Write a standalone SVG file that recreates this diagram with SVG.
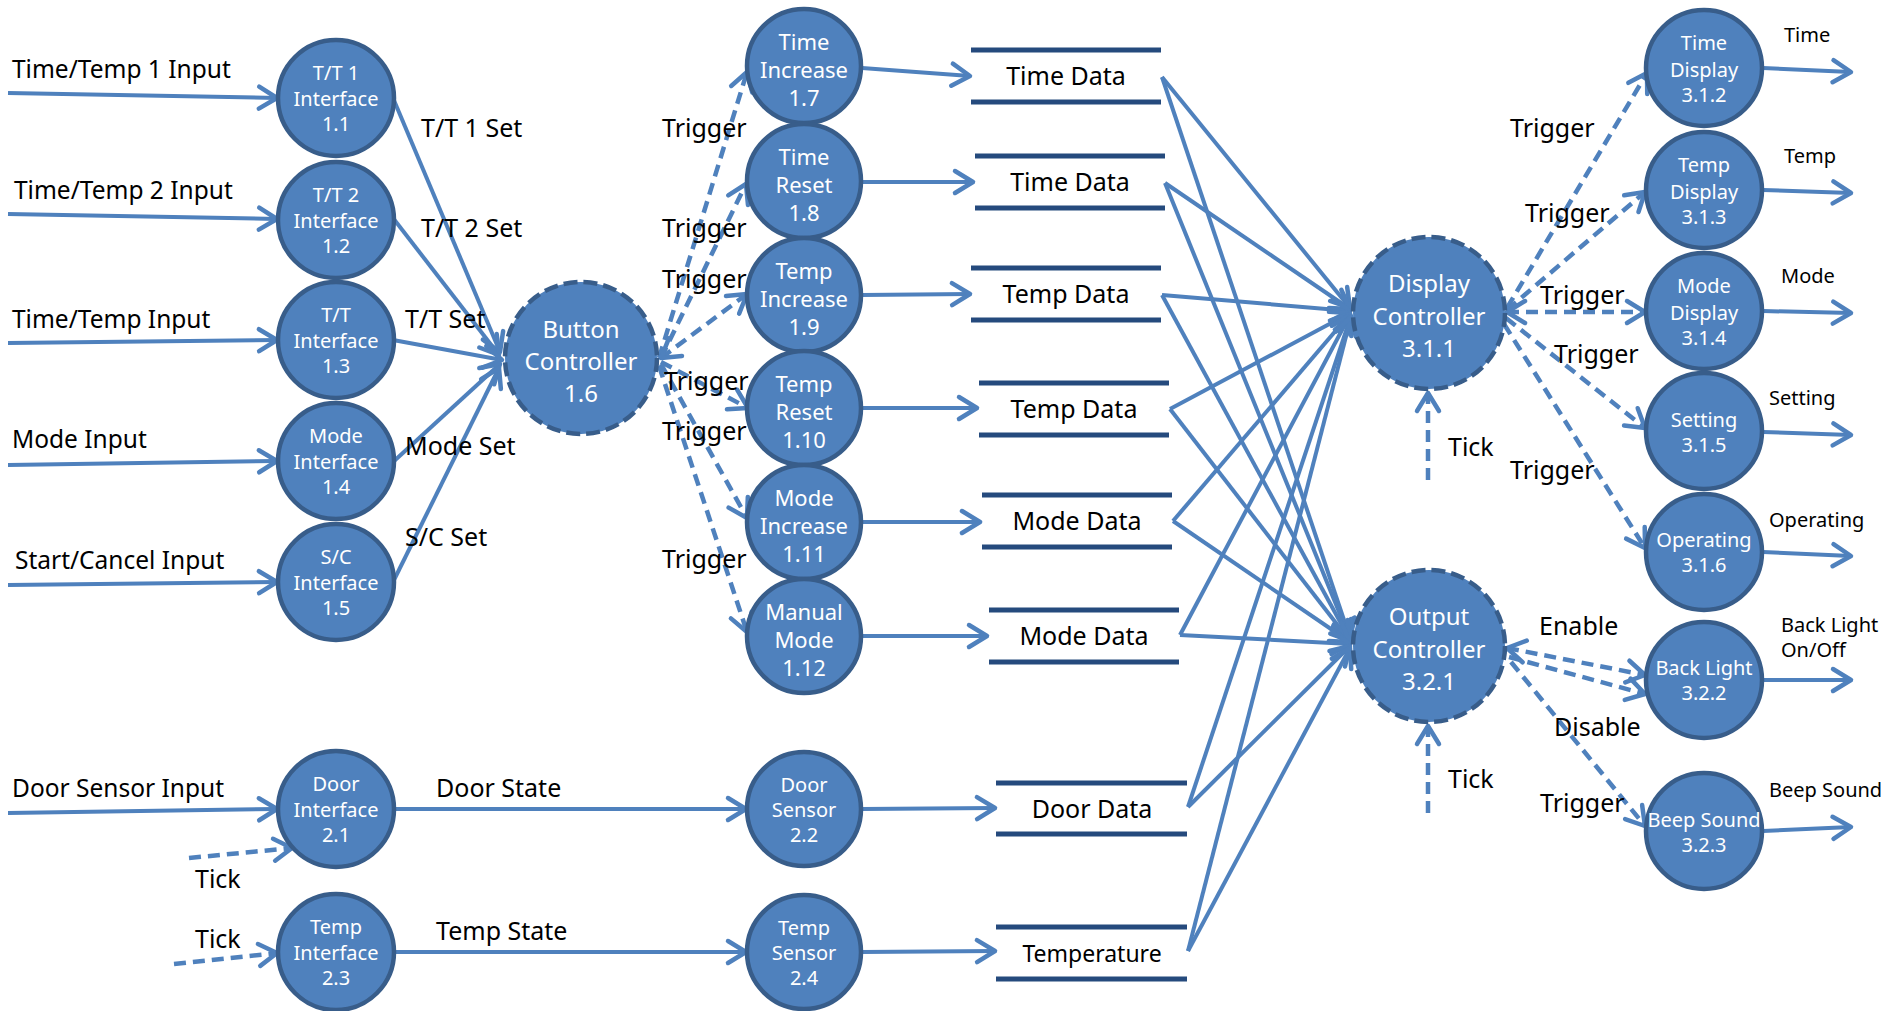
<svg xmlns="http://www.w3.org/2000/svg" width="1895" height="1011" viewBox="0 0 1895 1011">
<style>
text{font-family:'Noto Sans','Open Sans','Noto Sans CJK KR',sans-serif;}
.n{fill:#4F81BD;stroke:#385D8A;stroke-width:4.5;}
.c{fill:#4F81BD;stroke:#385D8A;stroke-width:4.5;stroke-dasharray:14 6;}
.nt{fill:#fff;text-anchor:middle;font-size:20px;}
.mt{fill:#fff;text-anchor:middle;font-size:22px;}
.ct{fill:#fff;text-anchor:middle;font-size:24px;}
.l{fill:#000;font-size:25px;}
.li{fill:#000;font-size:24.5px;}
.ls{fill:#000;font-size:20px;}
.dt{fill:#000;font-size:25px;text-anchor:middle;}
.s{stroke:#4F81BD;stroke-width:4;fill:none;marker-end:url(#ah);}
.d{stroke:#4F81BD;stroke-width:4.5;fill:none;stroke-dasharray:12 7;marker-end:url(#ah);}
.st{stroke:#254A7D;stroke-width:5;}
</style>
<defs>
<marker id="ah" viewBox="-26 -16 32 32" refX="0" refY="0" markerWidth="32" markerHeight="32" markerUnits="userSpaceOnUse" orient="auto-start-reverse">
<path d="M-18,-11 L0,0 L-18,11" fill="none" stroke="#4F81BD" stroke-width="4.5" stroke-linecap="round" stroke-linejoin="round"/>
</marker>
</defs>
<rect width="1895" height="1011" fill="#fff"/>

<g id="stores">
<g id="store-time1"><line class="st" x1="971" y1="50" x2="1161" y2="50"/><line class="st" x1="971" y1="102" x2="1161" y2="102"/><text class="dt" x="1066" y="85">Time Data</text></g>
<g id="store-time2"><line class="st" x1="975" y1="156" x2="1165" y2="156"/><line class="st" x1="975" y1="208" x2="1165" y2="208"/><text class="dt" x="1070" y="191">Time Data</text></g>
<g id="store-temp1"><line class="st" x1="971" y1="268" x2="1161" y2="268"/><line class="st" x1="971" y1="320" x2="1161" y2="320"/><text class="dt" x="1066" y="303">Temp Data</text></g>
<g id="store-temp2"><line class="st" x1="979" y1="383" x2="1169" y2="383"/><line class="st" x1="979" y1="435" x2="1169" y2="435"/><text class="dt" x="1074" y="418">Temp Data</text></g>
<g id="store-mode1"><line class="st" x1="982" y1="495" x2="1172" y2="495"/><line class="st" x1="982" y1="547" x2="1172" y2="547"/><text class="dt" x="1077" y="530">Mode Data</text></g>
<g id="store-mode2"><line class="st" x1="989" y1="610" x2="1179" y2="610"/><line class="st" x1="989" y1="662" x2="1179" y2="662"/><text class="dt" x="1084" y="645">Mode Data</text></g>
<g id="store-door"><line class="st" x1="996" y1="783" x2="1187" y2="783"/><line class="st" x1="996" y1="834" x2="1187" y2="834"/><text class="dt" x="1092" y="818">Door Data</text></g>
<g id="store-temperature"><line class="st" x1="996" y1="927" x2="1187" y2="927"/><line class="st" x1="996" y1="979" x2="1187" y2="979"/><text class="dt" x="1092" y="962" style="font-size:23px">Temperature</text></g>
</g>

<g id="connectors">
<line class="s" x1="8" y1="93" x2="277" y2="98"/>
<line class="s" x1="8" y1="214" x2="277" y2="219"/>
<line class="s" x1="8" y1="343" x2="277" y2="340"/>
<line class="s" x1="8" y1="465" x2="277" y2="461"/>
<line class="s" x1="8" y1="585" x2="277" y2="582"/>
<line class="s" x1="8" y1="813" x2="277" y2="809"/>
<line class="d" x1="189" y1="858" x2="292" y2="848"/>
<line class="d" x1="174" y1="964" x2="277" y2="953"/>
<line class="s" x1="393" y1="98" x2="500" y2="352"/>
<line class="s" x1="393" y1="218" x2="499" y2="355"/>
<line class="s" x1="393" y1="340" x2="502" y2="360"/>
<line class="s" x1="393" y1="462" x2="500" y2="364"/>
<line class="s" x1="393" y1="582" x2="499" y2="368"/>
<line class="s" x1="394" y1="809" x2="746" y2="809"/>
<line class="s" x1="394" y1="952" x2="746" y2="952"/>
<line class="d" x1="659" y1="358" x2="747" y2="72"/>
<line class="d" x1="661" y1="358" x2="746" y2="184"/>
<line class="d" x1="661" y1="358" x2="747" y2="294" style="marker-start:url(#ah)"/>
<line class="d" x1="661" y1="362" x2="748" y2="408"/>
<line class="d" x1="661" y1="364" x2="747" y2="518"/>
<line class="d" x1="659" y1="366" x2="747" y2="632"/>
<line class="s" x1="862" y1="68" x2="970" y2="76"/>
<line class="s" x1="862" y1="182" x2="973" y2="182"/>
<line class="s" x1="862" y1="295" x2="970" y2="294"/>
<line class="s" x1="862" y1="408" x2="977" y2="408"/>
<line class="s" x1="862" y1="522" x2="980" y2="522"/>
<line class="s" x1="862" y1="636" x2="987" y2="636"/>
<line class="s" x1="862" y1="809" x2="995" y2="808"/>
<line class="s" x1="862" y1="952" x2="995" y2="951"/>
<line class="s" x1="1162" y1="77" x2="1350" y2="308"/>
<line class="s" x1="1165" y1="183" x2="1350" y2="309"/>
<line class="s" x1="1162" y1="295" x2="1350" y2="311"/>
<line class="s" x1="1170" y1="409" x2="1350" y2="313"/>
<line class="s" x1="1173" y1="521" x2="1350" y2="314"/>
<line class="s" x1="1180" y1="635" x2="1350" y2="315"/>
<line class="s" x1="1188" y1="807" x2="1351" y2="316"/>
<line class="s" x1="1188" y1="951" x2="1351" y2="317"/>
<line class="s" x1="1162" y1="77" x2="1350" y2="638"/>
<line class="s" x1="1165" y1="183" x2="1350" y2="639"/>
<line class="s" x1="1162" y1="295" x2="1350" y2="640"/>
<line class="s" x1="1170" y1="409" x2="1350" y2="641"/>
<line class="s" x1="1173" y1="521" x2="1350" y2="642"/>
<line class="s" x1="1180" y1="635" x2="1350" y2="644"/>
<line class="s" x1="1188" y1="807" x2="1350" y2="646"/>
<line class="s" x1="1188" y1="951" x2="1350" y2="648"/>
<line class="d" x1="1507" y1="308" x2="1647" y2="73"/>
<line class="d" x1="1507" y1="310" x2="1645" y2="192"/>
<line class="d" x1="1507" y1="312" x2="1645" y2="312" style="marker-start:url(#ah)"/>
<line class="d" x1="1506" y1="318" x2="1645" y2="428"/>
<line class="d" x1="1504" y1="324" x2="1645" y2="548"/>
<line class="d" x1="1428" y1="480" x2="1428" y2="393"/>
<line class="d" x1="1507" y1="648" x2="1645" y2="675" style="marker-start:url(#ah)"/>
<line class="d" x1="1509" y1="657" x2="1645" y2="694"/>
<line class="d" x1="1511" y1="662" x2="1645" y2="826"/>
<line class="d" x1="1428" y1="813" x2="1428" y2="726"/>
<line class="s" x1="1763" y1="68" x2="1851" y2="72"/>
<line class="s" x1="1763" y1="190" x2="1851" y2="193"/>
<line class="s" x1="1763" y1="311" x2="1851" y2="313"/>
<line class="s" x1="1763" y1="432" x2="1851" y2="435"/>
<line class="s" x1="1763" y1="552" x2="1851" y2="556"/>
<line class="s" x1="1763" y1="680" x2="1851" y2="680"/>
<line class="s" x1="1763" y1="831" x2="1851" y2="827"/>
</g>

<g id="labels">
<text class="li" x="12" y="78">Time/Temp 1 Input</text>
<text class="li" x="14" y="199">Time/Temp 2 Input</text>
<text class="li" x="12" y="328">Time/Temp Input</text>
<text class="li" x="12" y="448">Mode Input</text>
<text class="li" x="15" y="569">Start/Cancel Input</text>
<text class="li" x="12" y="797">Door Sensor Input</text>
<text class="l" x="195" y="888">Tick</text>
<text class="l" x="195" y="948">Tick</text>
<text class="l" x="421" y="137">T/T 1 Set</text>
<text class="l" x="421" y="237">T/T 2 Set</text>
<text class="l" x="405" y="328">T/T Set</text>
<text class="l" x="405" y="455">Mode Set</text>
<text class="l" x="405" y="546">S/C Set</text>
<text class="l" x="436" y="797">Door State</text>
<text class="l" x="436" y="940">Temp State</text>
<text class="l" x="662" y="137">Trigger</text>
<text class="l" x="662" y="237">Trigger</text>
<text class="l" x="662" y="288">Trigger</text>
<text class="l" x="664" y="390">Trigger</text>
<text class="l" x="662" y="440">Trigger</text>
<text class="l" x="662" y="568">Trigger</text>
<text class="l" x="1510" y="137">Trigger</text>
<text class="l" x="1525" y="222">Trigger</text>
<text class="l" x="1540" y="304">Trigger</text>
<text class="l" x="1554" y="363">Trigger</text>
<text class="l" x="1510" y="479">Trigger</text>
<text class="l" x="1448" y="456">Tick</text>
<text class="l" x="1448" y="788">Tick</text>
<text class="l" x="1539" y="635">Enable</text>
<text class="l" x="1554" y="736">Disable</text>
<text class="l" x="1540" y="812">Trigger</text>
<text class="ls" x="1784" y="42">Time</text>
<text class="ls" x="1784" y="163">Temp</text>
<text class="ls" x="1781" y="283">Mode</text>
<text class="ls" x="1769" y="405">Setting</text>
<text class="ls" x="1769" y="527">Operating</text>
<text class="ls" x="1781" y="632">Back Light</text>
<text class="ls" x="1781" y="657">On/Off</text>
<text class="ls" x="1769" y="797">Beep Sound</text>
</g>

<g id="n1-1"><circle class="n" cx="336" cy="98" r="58"/><text class="nt" x="336" y="80">T/T 1</text><text class="nt" x="336" y="106">Interface</text><text class="nt" x="336" y="131">1.1</text></g>
<g id="n1-2"><circle class="n" cx="336" cy="220" r="58"/><text class="nt" x="336" y="202">T/T 2</text><text class="nt" x="336" y="228">Interface</text><text class="nt" x="336" y="253">1.2</text></g>
<g id="n1-3"><circle class="n" cx="336" cy="340" r="58"/><text class="nt" x="336" y="322">T/T</text><text class="nt" x="336" y="348">Interface</text><text class="nt" x="336" y="373">1.3</text></g>
<g id="n1-4"><circle class="n" cx="336" cy="461" r="58"/><text class="nt" x="336" y="443">Mode</text><text class="nt" x="336" y="469">Interface</text><text class="nt" x="336" y="494">1.4</text></g>
<g id="n1-5"><circle class="n" cx="336" cy="582" r="58"/><text class="nt" x="336" y="564">S/C</text><text class="nt" x="336" y="590">Interface</text><text class="nt" x="336" y="615">1.5</text></g>
<g id="n2-1"><circle class="n" cx="336" cy="809" r="58"/><text class="nt" x="336" y="791">Door</text><text class="nt" x="336" y="817">Interface</text><text class="nt" x="336" y="842">2.1</text></g>
<g id="n2-3"><circle class="n" cx="336" cy="952" r="58"/><text class="nt" x="336" y="934">Temp</text><text class="nt" x="336" y="960">Interface</text><text class="nt" x="336" y="985">2.3</text></g>

<g id="n1-6"><circle class="c" cx="581" cy="358" r="76"/><text class="ct" x="581" y="338">Button</text><text class="ct" x="581" y="370">Controller</text><text class="ct" x="581" y="402">1.6</text></g>

<g id="n1-7"><circle class="n" cx="804" cy="66" r="57"/><text class="mt" x="804" y="50">Time</text><text class="mt" x="804" y="78">Increase</text><text class="mt" x="804" y="106">1.7</text></g>
<g id="n1-8"><circle class="n" cx="804" cy="181" r="57"/><text class="mt" x="804" y="165">Time</text><text class="mt" x="804" y="193">Reset</text><text class="mt" x="804" y="221">1.8</text></g>
<g id="n1-9"><circle class="n" cx="804" cy="295" r="57"/><text class="mt" x="804" y="279">Temp</text><text class="mt" x="804" y="307">Increase</text><text class="mt" x="804" y="335">1.9</text></g>
<g id="n1-10"><circle class="n" cx="804" cy="408" r="57"/><text class="mt" x="804" y="392">Temp</text><text class="mt" x="804" y="420">Reset</text><text class="mt" x="804" y="448">1.10</text></g>
<g id="n1-11"><circle class="n" cx="804" cy="522" r="57"/><text class="mt" x="804" y="506">Mode</text><text class="mt" x="804" y="534">Increase</text><text class="mt" x="804" y="562">1.11</text></g>
<g id="n1-12"><circle class="n" cx="804" cy="636" r="57"/><text class="mt" x="804" y="620">Manual</text><text class="mt" x="804" y="648">Mode</text><text class="mt" x="804" y="676">1.12</text></g>
<g id="n2-2"><circle class="n" cx="804" cy="809" r="57"/><text class="nt" x="804" y="792">Door</text><text class="nt" x="804" y="817">Sensor</text><text class="nt" x="804" y="842">2.2</text></g>
<g id="n2-4"><circle class="n" cx="804" cy="952" r="57"/><text class="nt" x="804" y="935">Temp</text><text class="nt" x="804" y="960">Sensor</text><text class="nt" x="804" y="985">2.4</text></g>

<g id="n3-1-1"><circle class="c" cx="1429" cy="313" r="76"/><text class="ct" x="1429" y="292">Display</text><text class="ct" x="1429" y="325">Controller</text><text class="ct" x="1429" y="357">3.1.1</text></g>
<g id="n3-2-1"><circle class="c" cx="1429" cy="646" r="76"/><text class="ct" x="1429" y="625">Output</text><text class="ct" x="1429" y="658">Controller</text><text class="ct" x="1429" y="690">3.2.1</text></g>

<g id="n3-1-2"><circle class="n" cx="1704" cy="68" r="58"/><text class="nt" x="1704" y="50">Time</text><text class="nt" x="1704" y="77">Display</text><text class="nt" x="1704" y="102">3.1.2</text></g>
<g id="n3-1-3"><circle class="n" cx="1704" cy="190" r="58"/><text class="nt" x="1704" y="172">Temp</text><text class="nt" x="1704" y="199">Display</text><text class="nt" x="1704" y="224">3.1.3</text></g>
<g id="n3-1-4"><circle class="n" cx="1704" cy="311" r="58"/><text class="nt" x="1704" y="293">Mode</text><text class="nt" x="1704" y="320">Display</text><text class="nt" x="1704" y="345">3.1.4</text></g>
<g id="n3-1-5"><circle class="n" cx="1704" cy="431" r="58"/><text class="nt" x="1704" y="427">Setting</text><text class="nt" x="1704" y="452">3.1.5</text></g>
<g id="n3-1-6"><circle class="n" cx="1704" cy="552" r="58"/><text class="nt" x="1704" y="547">Operating</text><text class="nt" x="1704" y="572">3.1.6</text></g>
<g id="n3-2-2"><circle class="n" cx="1704" cy="680" r="58"/><text class="nt" x="1704" y="675">Back Light</text><text class="nt" x="1704" y="700">3.2.2</text></g>
<g id="n3-2-3"><circle class="n" cx="1704" cy="831" r="58"/><text class="nt" x="1704" y="827">Beep Sound</text><text class="nt" x="1704" y="852">3.2.3</text></g>
</svg>
